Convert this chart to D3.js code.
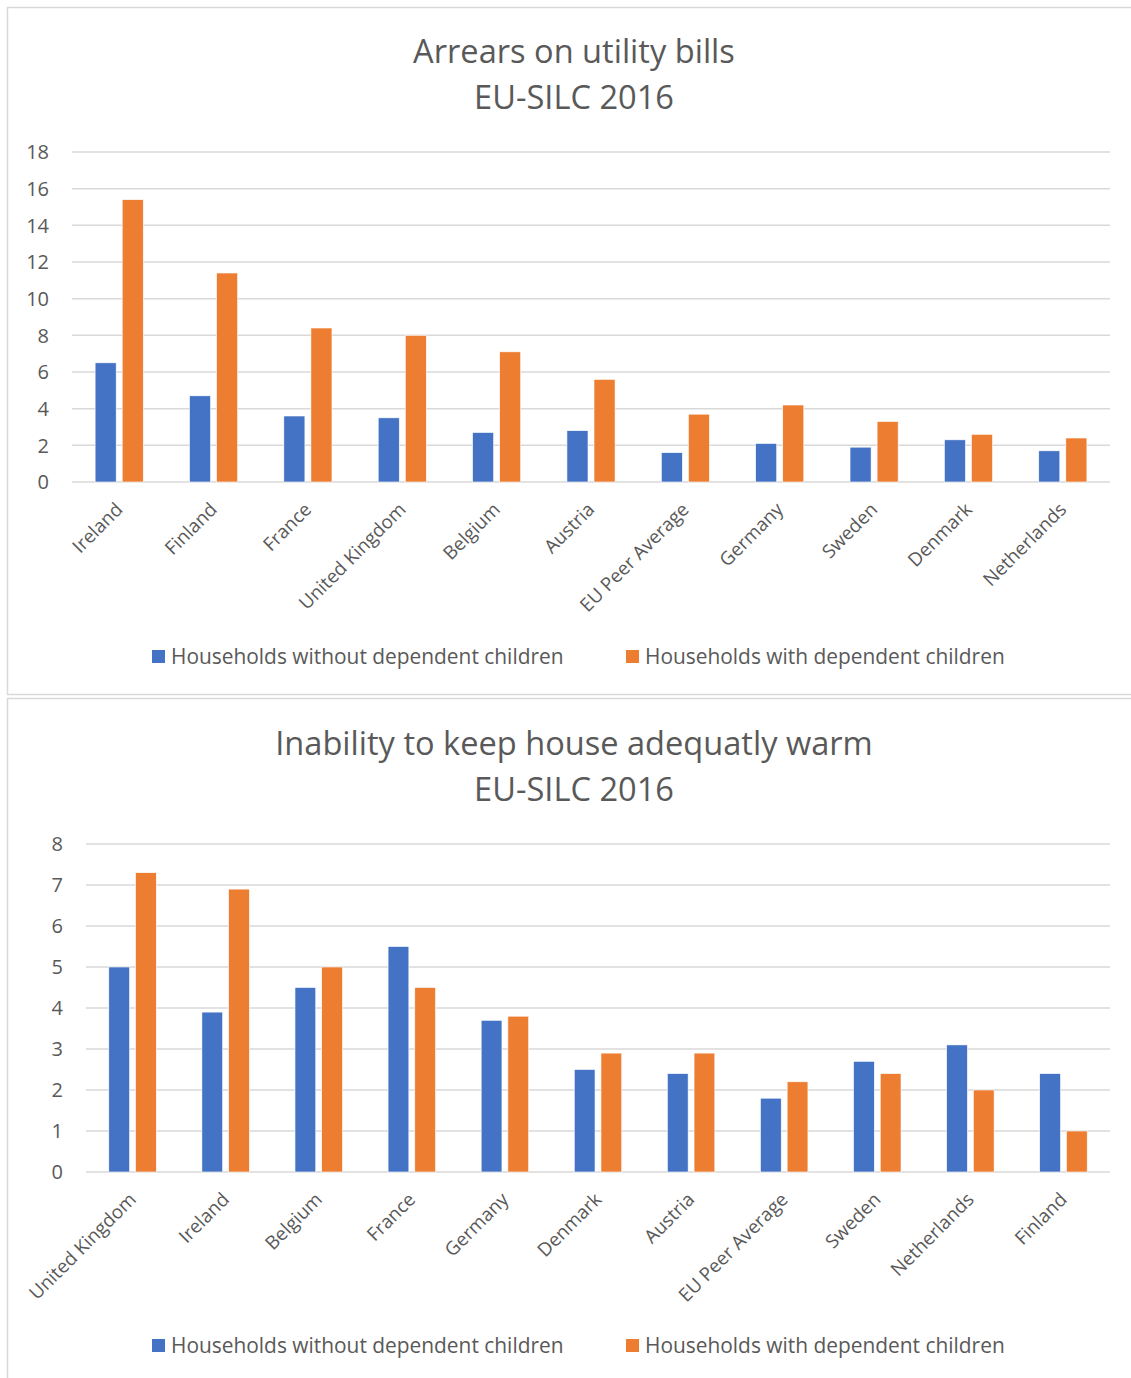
<!DOCTYPE html>
<html>
<head>
<meta charset="utf-8">
<script src="https://cdn.jsdelivr.net/npm/d3@7"></script>
<style>
  body { margin: 0; background: #fff; }
  text { font-family: "Open Sans", "Noto Sans", sans-serif; fill: #595959; }
</style>
</head>
<body>
<script>
// chart 1: arrears on utility bills
var arrearsCountries = ["Ireland", "Finland", "France", "United Kingdom", "Belgium", "Austria",
                        "EU Peer Average", "Germany", "Sweden", "Denmark", "Netherlands"];
var arrearsNoChildren   = [6.5, 4.7, 3.6, 3.5, 2.7, 2.8, 1.6, 2.1, 1.9, 2.3, 1.7];
var arrearsWithChildren = [15.4, 11.4, 8.4, 8.0, 7.1, 5.6, 3.7, 4.2, 3.3, 2.6, 2.4];
var arrearsTicks = [0, 2, 4, 6, 8, 10, 12, 14, 16, 18];

// chart 2: inability to keep house warm
var warmCountries = ["United Kingdom", "Ireland", "Belgium", "France", "Germany", "Denmark",
                     "Austria", "EU Peer Average", "Sweden", "Netherlands", "Finland"];
var warmNoChildren   = [5.0, 3.9, 4.5, 5.5, 3.7, 2.5, 2.4, 1.8, 2.7, 3.1, 2.4];
var warmWithChildren = [7.3, 6.9, 5.0, 4.5, 3.8, 2.9, 2.9, 2.2, 2.4, 2.0, 1.0];
var warmTicks = [0, 1, 2, 3, 4, 5, 6, 7, 8];

var seriesNames  = ["Households without dependent children", "Households with dependent children"];
var seriesColors = ["#4472C4", "#ED7D31"];

var W = 1131, H = 1378;
var svg = d3.select("body").append("svg").attr("width", W).attr("height", H);

// draws one chart panel
var drawChart = function(opt){
    var g = svg.append("g");

    g.append("rect")
     .attr("x", 7.5).attr("y", opt.boxTop)
     .attr("width", 1150).attr("height", opt.boxHeight)
     .style("fill", "none").style("stroke", "#d9d9d9").style("stroke-width", 1.5);

    opt.title.forEach(function(t, i){
        g.append("text")
         .attr("x", 574).attr("y", opt.titleY + i*46)
         .attr("text-anchor", "middle")
         .style("font-size", "32.6px")
         .text(t);
    });

    var x0 = d3.scaleBand().domain(opt.cats).range([opt.left, 1110])
               .paddingInner(0.49).paddingOuter(0.245);
    var x1 = d3.scaleBand().domain([0, 1]).range([0, x0.bandwidth()]).paddingInner(0.222);
    var y = d3.scaleLinear().domain([0, opt.ticks[opt.ticks.length-1]]).range([opt.bottom, opt.top]);

    // gridlines
    g.selectAll(".grid").data(opt.ticks).enter().append("line")
     .attr("x1", opt.left).attr("x2", 1110)
     .attr("y1", function(d){ return y(d); }).attr("y2", function(d){ return y(d); })
     .style("stroke", "#d9d9d9").style("stroke-width", 1.5);

    g.selectAll(".ytick").data(opt.ticks).enter().append("text")
     .attr("x", opt.left - 23).attr("y", function(d){ return y(d); })
     .attr("dy", "0.36em").attr("text-anchor", "end")
     .style("font-size", "20px")
     .text(function(d){ return d; });

    var rows = opt.cats.map(function(c, i){ return {cat: c, vals: [opt.s1[i], opt.s2[i]]}; });
    var grp = g.selectAll(".cat").data(rows).enter().append("g")
               .attr("transform", function(d){ return "translate(" + x0(d.cat) + ",0)"; });
    grp.selectAll("rect").data(function(d){ return d.vals; }).enter().append("rect")
       .attr("x", function(d, i){ return x1(i); })
       .attr("width", x1.bandwidth())
       .attr("y", function(d){ return y(d); })
       .attr("height", function(d){ return opt.bottom - y(d); })
       .style("fill", function(d, i){ return seriesColors[i]; })
       .style("stroke", "#fff").style("stroke-width", 0.6);

    g.selectAll(".xlab").data(opt.cats).enter().append("text")
     .attr("transform", function(d){
         var cx = x0(d) + x0.bandwidth()/2;
         return "translate(" + (cx + 0) + "," + (opt.bottom + 24) + ") rotate(-45)";
     })
     .attr("text-anchor", "end").attr("dy", "0.35em")
     .style("font-size", "18.8px")
     .text(function(d){ return d; });

    // legend
    var legX = [152, 626];
    seriesNames.forEach(function(n, i){
        g.append("rect")
         .attr("x", legX[i]).attr("y", opt.legendY - 7)
         .attr("width", 13).attr("height", 13)
         .style("fill", seriesColors[i]);
        g.append("text")
         .attr("x", legX[i] + 19).attr("y", opt.legendY)
         .attr("dy", "0.35em")
         .style("font-size", "20.9px")
         .text(n);
    });
};

drawChart({
    boxTop: 7.5, boxHeight: 687,
    title: ["Arrears on utility bills", "EU-SILC 2016"], titleY: 63,
    cats: arrearsCountries, s1: arrearsNoChildren, s2: arrearsWithChildren,
    ticks: arrearsTicks, left: 72, top: 152, bottom: 482,
    legendY: 657
});

drawChart({
    boxTop: 698.5, boxHeight: 800,
    title: ["Inability to keep house adequatly warm", "EU-SILC 2016"], titleY: 755,
    cats: warmCountries, s1: warmNoChildren, s2: warmWithChildren,
    ticks: warmTicks, left: 86, top: 844, bottom: 1172,
    legendY: 1346
});
</script>
</body>
</html>
